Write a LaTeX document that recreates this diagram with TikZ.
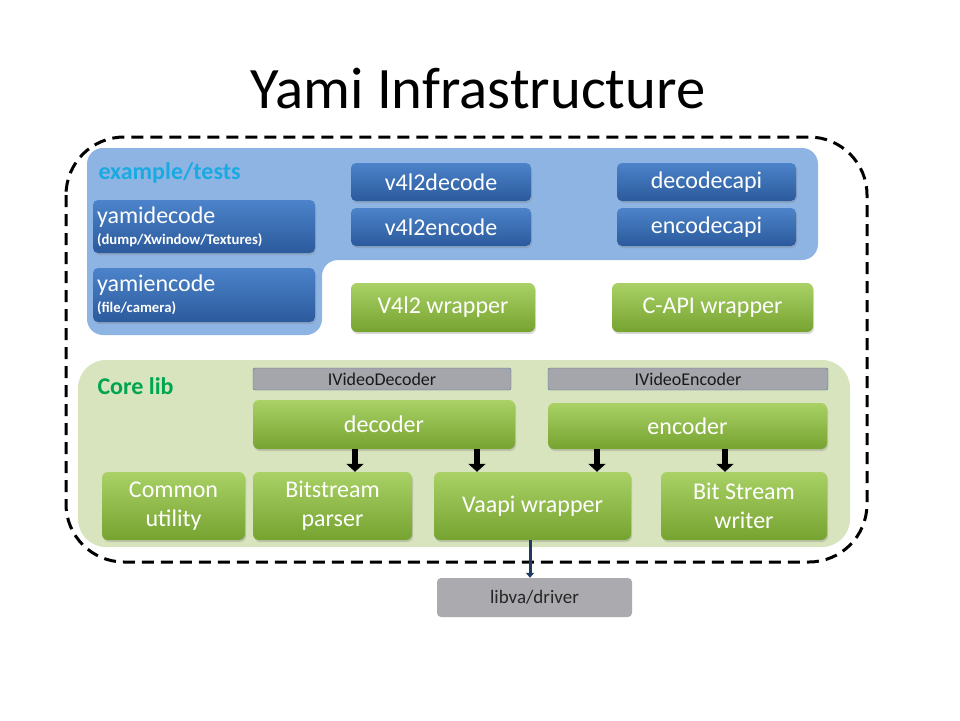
\documentclass[tikz,border=0pt]{standalone}
\usepackage{fontspec}
\setmainfont{Carlito}
\usepackage{tikz}
\usetikzlibrary{arrows.meta, shadows}

\definecolor{blueregion}{HTML}{8EB4E3}
\definecolor{bluetop}{HTML}{4C83CA}
\definecolor{bluebot}{HTML}{2B5A9C}
\definecolor{greentop}{HTML}{A9D166}
\definecolor{greenbot}{HTML}{76A330}
\definecolor{coreregion}{HTML}{D7E4BD}
\definecolor{ifgrey}{HTML}{A5A6AB}
\definecolor{ifborder}{HTML}{4F6D96}
\definecolor{navyline}{HTML}{1F3B63}
\definecolor{testscyan}{HTML}{1AAAE2}
\definecolor{coregreen}{HTML}{00A551}

\tikzset{
  bluebox/.style={rounded corners=5pt, top color=bluetop, bottom color=bluebot, text=white,
    inner sep=0pt, font=\fontsize{24}{26}\selectfont,
    drop shadow={shadow xshift=1pt, shadow yshift=-2pt, opacity=.3}},
  greenbox/.style={rounded corners=6pt, top color=greentop, bottom color=greenbot, text=white,
    inner sep=0pt, align=center, font=\fontsize{24}{29}\selectfont,
    drop shadow={shadow xshift=1pt, shadow yshift=-2pt, opacity=.3}},
  ifbar/.style={rounded corners=2pt, fill=ifgrey, draw=ifborder, thin, inner sep=0pt,
    text=black!90, font=\fontsize{18}{20}\selectfont},
  blockarrow/.style={line width=6.5pt, -{Triangle[width=17pt,length=8pt]}},
}

\begin{document}
\begin{tikzpicture}[x=1pt, y=-1pt]
          \useasboundingbox (0,0) rectangle (960,720);
          \node [anchor=base, font=\fontsize{58.7}{60}\selectfont] (title) at (478,108) {Yami Infrastructure};

          \draw [black, line width=3pt, dash pattern=on 12pt off 7pt, rounded corners=58pt] (66,137) rectangle (867,562); % the outer frame
          \fill [blueregion, rounded corners=16pt] (87,148) -- (818,148) -- (818,260) -- (322,260) -- (322,335) -- (87,335) -- cycle;
          \fill [coreregion, rounded corners=28pt] (78,360) rectangle (850,547);

          \node [anchor=base west, text=testscyan, font=\fontsize{24}{26}\bfseries] (tests) at (95,179) {example/tests};
          \node [bluebox, minimum width=222pt, minimum height=53pt, text width=214pt, align=left] (yamidec) at (204,226.5)
                {yamidecode\\[-5pt]{\fontsize{14.7}{16}\bfseries (dump/Xwindow/Textures)}};
          \node [bluebox, minimum width=222pt, minimum height=54pt, text width=214pt, align=left] (yamienc) at (204,295)
                {yamiencode\\[-5pt]{\fontsize{14.7}{16}\bfseries (file/camera)}};
          \node [bluebox, minimum width=180pt, minimum height=38pt] (v4ldec) at (441,182) {v4l2decode};
          \node [bluebox, minimum width=180pt, minimum height=38pt] (v4lenc) at (441,227) {v4l2encode};
          \node [bluebox, minimum width=179pt, minimum height=38pt] (capidec) at (706.5,182) {decodecapi};
          \node [bluebox, minimum width=179pt, minimum height=38pt] (capienc) at (706.5,227) {encodecapi};

          \node [greenbox, minimum width=184pt, minimum height=49pt] (v4lwrap) at (443,307.5) {V4l2 wrapper};
          \node [greenbox, minimum width=201pt, minimum height=49pt] (capiwrap) at (712.5,307.5) {C-API wrapper};

          \node [anchor=base west, text=coregreen, font=\fontsize{24}{26}\bfseries] (core) at (94,394) {Core lib};
          \node [ifbar, minimum width=258pt, minimum height=22pt] (idec) at (382,379) {IVideoDecoder};
          \node [ifbar, minimum width=280pt, minimum height=22pt] (ienc) at (688,379) {IVideoEncoder};
          \node [greenbox, minimum width=262pt, minimum height=49pt] (decoder) at (384,424.5) {decoder};
          \node [greenbox, minimum width=279pt, minimum height=46pt] (encoder) at (687.5,426) {encoder};

          \node [greenbox, minimum width=143pt, minimum height=68pt] (common) at (173.5,506) {Common\\utility};
          \node [greenbox, minimum width=159pt, minimum height=68pt] (bsparser) at (332.5,506) {Bitstream\\parser};
          \node [greenbox, minimum width=197pt, minimum height=68pt] (vaapi) at (532.5,506) {Vaapi wrapper};
          \node [greenbox, minimum width=166pt, minimum height=68pt] (bswriter) at (744,506) {Bit Stream\\writer};

          \node [rounded corners=4pt, fill=ifgrey!95!white, inner sep=0pt, minimum width=195pt, minimum height=39pt,
                 text=black!85, font=\fontsize{19}{21}\selectfont] (libva) at (534.5,597.5) {libva/driver};

          \coordinate (a1) at (355,0);
          \coordinate (a2) at (477,0);
          \coordinate (a3) at (597,0);
          \coordinate (a4) at (725,0);
          \coordinate (a5) at (530,0);
          \draw [blockarrow] (decoder.south -| a1) -- (bsparser.north -| a1);
          \draw [blockarrow] (decoder.south -| a2) -- (vaapi.north -| a2);
          \draw [blockarrow] (encoder.south -| a3) -- (vaapi.north -| a3);
          \draw [blockarrow] (encoder.south -| a4) -- (bswriter.north -| a4);
          \draw [navyline, line width=3pt, -{Triangle[width=8pt,length=5pt]}] (vaapi.south -| a5) -- (libva.north -| a5);
        \end{tikzpicture}
\end{document}
